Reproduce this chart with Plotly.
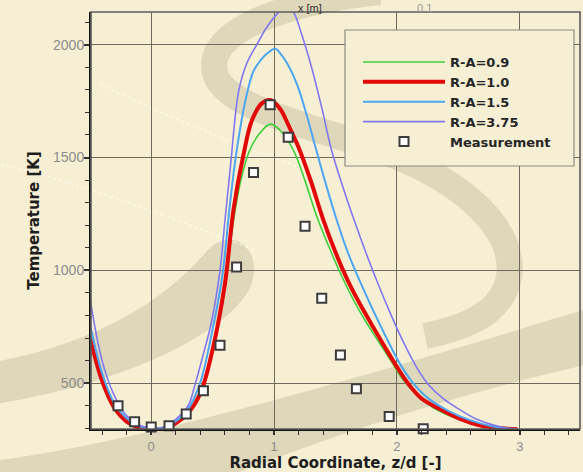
import plotly.graph_objects as go

# ---- simulated temperature profiles (radial coordinate z/d vs temperature K) ----
x_ra09 = [-0.5, -0.4, -0.3, -0.2, -0.1, 0.0, 0.1, 0.2, 0.3, 0.4, 0.5, 0.6, 0.67, 0.73,
          0.8, 0.88, 0.97, 1.05, 1.16, 1.25, 1.35, 1.45, 1.55, 1.65, 1.75, 1.85, 1.95,
          2.05, 2.15, 2.3, 2.5, 2.68, 2.85, 2.98]
t_ra09 = [695, 503, 386, 327, 300, 291, 296, 320, 365, 450, 640, 925, 1220, 1400,
          1530, 1605, 1648, 1620, 1530, 1400, 1235, 1100, 975, 865, 770, 685, 600,
          515, 455, 390, 340, 310, 299, 296]

x_ra10 = [-0.5, -0.4, -0.3, -0.2, -0.1, 0.0, 0.1, 0.2, 0.3, 0.4, 0.5, 0.6, 0.67, 0.75,
          0.82, 0.9, 0.97, 1.05, 1.12, 1.2, 1.3, 1.4, 1.5, 1.6, 1.7, 1.8, 1.9, 2.0,
          2.1, 2.2, 2.35, 2.5, 2.68, 2.85, 2.98]
t_ra10 = [705, 510, 390, 330, 302, 293, 298, 322, 368, 455, 650, 940, 1270, 1510,
          1665, 1740, 1755, 1715, 1640, 1545, 1395, 1225, 1080, 955, 850, 755, 662, 572,
          492, 432, 385, 345, 312, 300, 296]

x_ra15 = [-0.5, -0.4, -0.3, -0.2, -0.1, 0.0, 0.1, 0.2, 0.3, 0.4, 0.5, 0.58, 0.64, 0.69,
          0.766, 0.83, 0.886, 0.94, 1.01, 1.06, 1.12, 1.19, 1.27, 1.335, 1.42, 1.5, 1.6,
          1.7, 1.8, 1.92, 2.02, 2.125, 2.25, 2.41, 2.6, 2.763, 2.88, 2.98]
t_ra15 = [765, 545, 410, 345, 310, 300, 304, 330, 385, 505, 740, 980, 1290, 1510,
          1751, 1880, 1928, 1960, 1982, 1955, 1905, 1820, 1680, 1550, 1385, 1240, 1080,
          950, 830, 695, 590, 505, 435, 380, 335, 310, 300, 296]

x_ra375 = [-0.5, -0.4, -0.3, -0.2, -0.1, 0.0, 0.1, 0.2, 0.3, 0.36, 0.43, 0.49, 0.56, 0.6,
           0.65, 0.712, 0.78, 0.86, 0.95, 1.05, 1.1, 1.157, 1.225, 1.306, 1.388, 1.469,
           1.56, 1.65, 1.75, 1.85, 1.95, 2.05, 2.15, 2.25, 2.38, 2.504, 2.65, 2.817, 2.9,
           2.98]
t_ra375 = [882, 600, 445, 355, 315, 300, 305, 340, 400, 500, 640, 770, 1000, 1220,
           1490, 1795, 1920, 2001, 2085, 2150, 2168, 2145, 2045, 1898, 1721, 1530,
           1370, 1225, 1075, 935, 805, 685, 580, 498, 430, 385, 340, 310, 300,
           296]

# ---- measured temperatures ----
x_meas = [-0.27, -0.135, 0.0, 0.145, 0.285, 0.425, 0.56, 0.695, 0.833, 0.968, 1.115,
          1.252, 1.388, 1.54, 1.67, 1.937, 2.214]
t_meas = [400, 329, 306, 311, 364, 467, 668, 1015, 1434, 1734, 1590,
          1195, 876, 625, 475, 352, 298]

series = [
    ("R-A=0.9", x_ra09, t_ra09, "#3fcf3a", 1.6),
    ("R-A=1.0", x_ra10, t_ra10, "#e30808", 4.0),
    ("R-A=1.5", x_ra15, t_ra15, "#4da6f2", 2.0),
    ("R-A=3.75", x_ra375, t_ra375, "#8078ef", 1.6),
]

W, H = 583, 472
ML, MR, MT, MB = 91, 3, 12, 43
PW, PH = W - ML - MR, H - MT - MB

BG = "#f7efd4"
GRID = "#6f6a5c"
BAND = "rgba(168,158,126,0.30)"
GLINT = "rgba(255,255,248,0.5)"


def px(xp):
    return (xp - ML) / PW


def py(yp):
    return (H - MB - yp) / PH


def path(cmds):
    # cmds: list of (letter, [x0, y0, x1, y1, ...]) in figure pixels
    out = []
    for letter, pts in cmds:
        if letter == "Z":
            out.append("Z")
            continue
        coords = []
        for i in range(0, len(pts), 2):
            coords.append(f"{px(pts[i]):.4f},{py(pts[i + 1]):.4f}")
        out.append(letter + " " + " ".join(coords))
    return " ".join(out)


fig = go.Figure()

for name, xs, ts, color, width in series:
    fig.add_trace(go.Scatter(
        x=xs, y=ts, name=name, mode="lines",
        line=dict(color=color, width=width, shape="spline", smoothing=1.0),
    ))

fig.add_trace(go.Scatter(
    x=x_meas, y=t_meas, name="Measurement", mode="markers",
    marker=dict(symbol="square", size=9, color="white",
                line=dict(color="#3c3c3c", width=2)),
    cliponaxis=False,
))

shapes = []
# decorative background swooshes
shapes.append(dict(type="path", xref="paper", yref="paper", layer="below",
                   path=path([("M", [0, 472]), ("L", [0, 460]),
                              ("C", [150, 440, 380, 372, 590, 308]),
                              ("L", [590, 364]),
                              ("C", [450, 395, 320, 440, 232, 475]), ("Z", [])]),
                   fillcolor=BAND, line=dict(width=0)))
shapes.append(dict(type="path", xref="paper", yref="paper", layer="below",
                   path=path([("M", [-5, 362]), ("C", [100, 342, 165, 300, 208, 250]),
                              ("C", [235, 222, 268, 255, 248, 292]),
                              ("C", [215, 342, 110, 386, -5, 404]), ("Z", [])]),
                   fillcolor=BAND, line=dict(width=0)))
shapes.append(dict(type="path", xref="paper", yref="paper", layer="below",
                   path=path([("M", [380, -8]), ("C", [300, 0, 214, 25, 214, 66]),
                              ("C", [214, 106, 300, 122, 385, 152]),
                              ("C", [465, 182, 520, 232, 508, 282]),
                              ("C", [498, 318, 455, 330, 425, 336])]),
                   fillcolor="rgba(0,0,0,0)", line=dict(color=BAND, width=26)))
shapes.append(dict(type="path", xref="paper", yref="paper", layer="below",
                   path=path([("M", [-5, 163]), ("C", [80, 183, 165, 215, 255, 250])]),
                   fillcolor="rgba(0,0,0,0)", line=dict(color=GLINT, width=2, dash="dot")))
shapes.append(dict(type="path", xref="paper", yref="paper", layer="below",
                   path=path([("M", [100, 84]), ("C", [170, 118, 230, 142, 320, 175])]),
                   fillcolor="rgba(0,0,0,0)", line=dict(color=GLINT, width=2, dash="dot")))
# plot frame (top/right edges)
shapes.append(dict(type="rect", xref="paper", yref="paper", x0=0, y0=0, x1=1, y1=1,
                   layer="above", line=dict(color="#5c5c5c", width=1.6),
                   fillcolor="rgba(0,0,0,0)"))
# legend panel
shapes.append(dict(type="rect", xref="paper", yref="paper",
                   x0=px(345), x1=px(574), y0=py(166), y1=py(30),
                   layer="above", line=dict(color="#8a8a86", width=1.2),
                   fillcolor=BG))

fig.update_layout(
    width=W, height=H,
    margin=dict(l=ML, r=MR, t=MT, b=MB, pad=0),
    paper_bgcolor=BG, plot_bgcolor="rgba(0,0,0,0)",
    font=dict(family="Liberation Sans, Arial, sans-serif", color="#222"),
    shapes=shapes,
    showlegend=True,
    legend=dict(
        x=px(358), y=py(47), xanchor="left", yanchor="top",
        bgcolor="rgba(0,0,0,0)", borderwidth=0,
        font=dict(family="DejaVu Sans", size=13, color="#262626", weight="bold"),
        itemwidth=82, tracegroupgap=0,
    ),
    annotations=[
        dict(text="x [m]", xref="paper", yref="paper", x=px(310), y=py(1),
             xanchor="center", yanchor="top", showarrow=False, borderpad=0,
             font=dict(family="Liberation Sans", size=11, color="#333")),
        dict(text="0.1", xref="paper", yref="paper", x=px(424), y=py(1),
             xanchor="center", yanchor="top", showarrow=False, borderpad=0,
             font=dict(family="Liberation Sans", size=11, color="#9a9a9a")),
    ],
)

fig.update_xaxes(
    range=[-0.49, 3.49], tickmode="linear", tick0=0, dtick=1,
    ticks="outside", ticklen=4, tickwidth=1.5, tickcolor="#333",
    ticklabelstandoff=0,
    minor=dict(tick0=0, dtick=0.2, ticks="outside", ticklen=4, tickcolor="#333",
               tickwidth=1.2, showgrid=False),
    showgrid=True, gridcolor=GRID, gridwidth=1.3, zeroline=False,
    showline=True, linecolor="#111", linewidth=2,
    tickfont=dict(family="Liberation Sans", size=13, color="#8c8c8c"),
    title=dict(text="Radial Coordinate, z/d [-]", standoff=5,
               font=dict(family="DejaVu Sans", size=15, color="#1e1e1e", weight="bold")),
)
fig.update_yaxes(
    range=[297, 2145], tickmode="linear", tick0=0, dtick=500,
    ticks="outside", ticklen=5, tickwidth=1.5, tickcolor="#333",
    ticklabelstandoff=-3,
    minor=dict(tick0=0, dtick=100, ticks="outside", ticklen=4, tickcolor="#333",
               tickwidth=1.2, showgrid=False),
    showgrid=True, gridcolor=GRID, gridwidth=1.3, zeroline=False,
    showline=True, linecolor="#111", linewidth=2,
    tickfont=dict(family="Liberation Sans", size=14, color="#8c8c8c"),
    title=dict(text="Temperature [K]", standoff=10,
               font=dict(family="DejaVu Sans", size=15, color="#1e1e1e", weight="bold")),
)

fig.write_html("out.html")
